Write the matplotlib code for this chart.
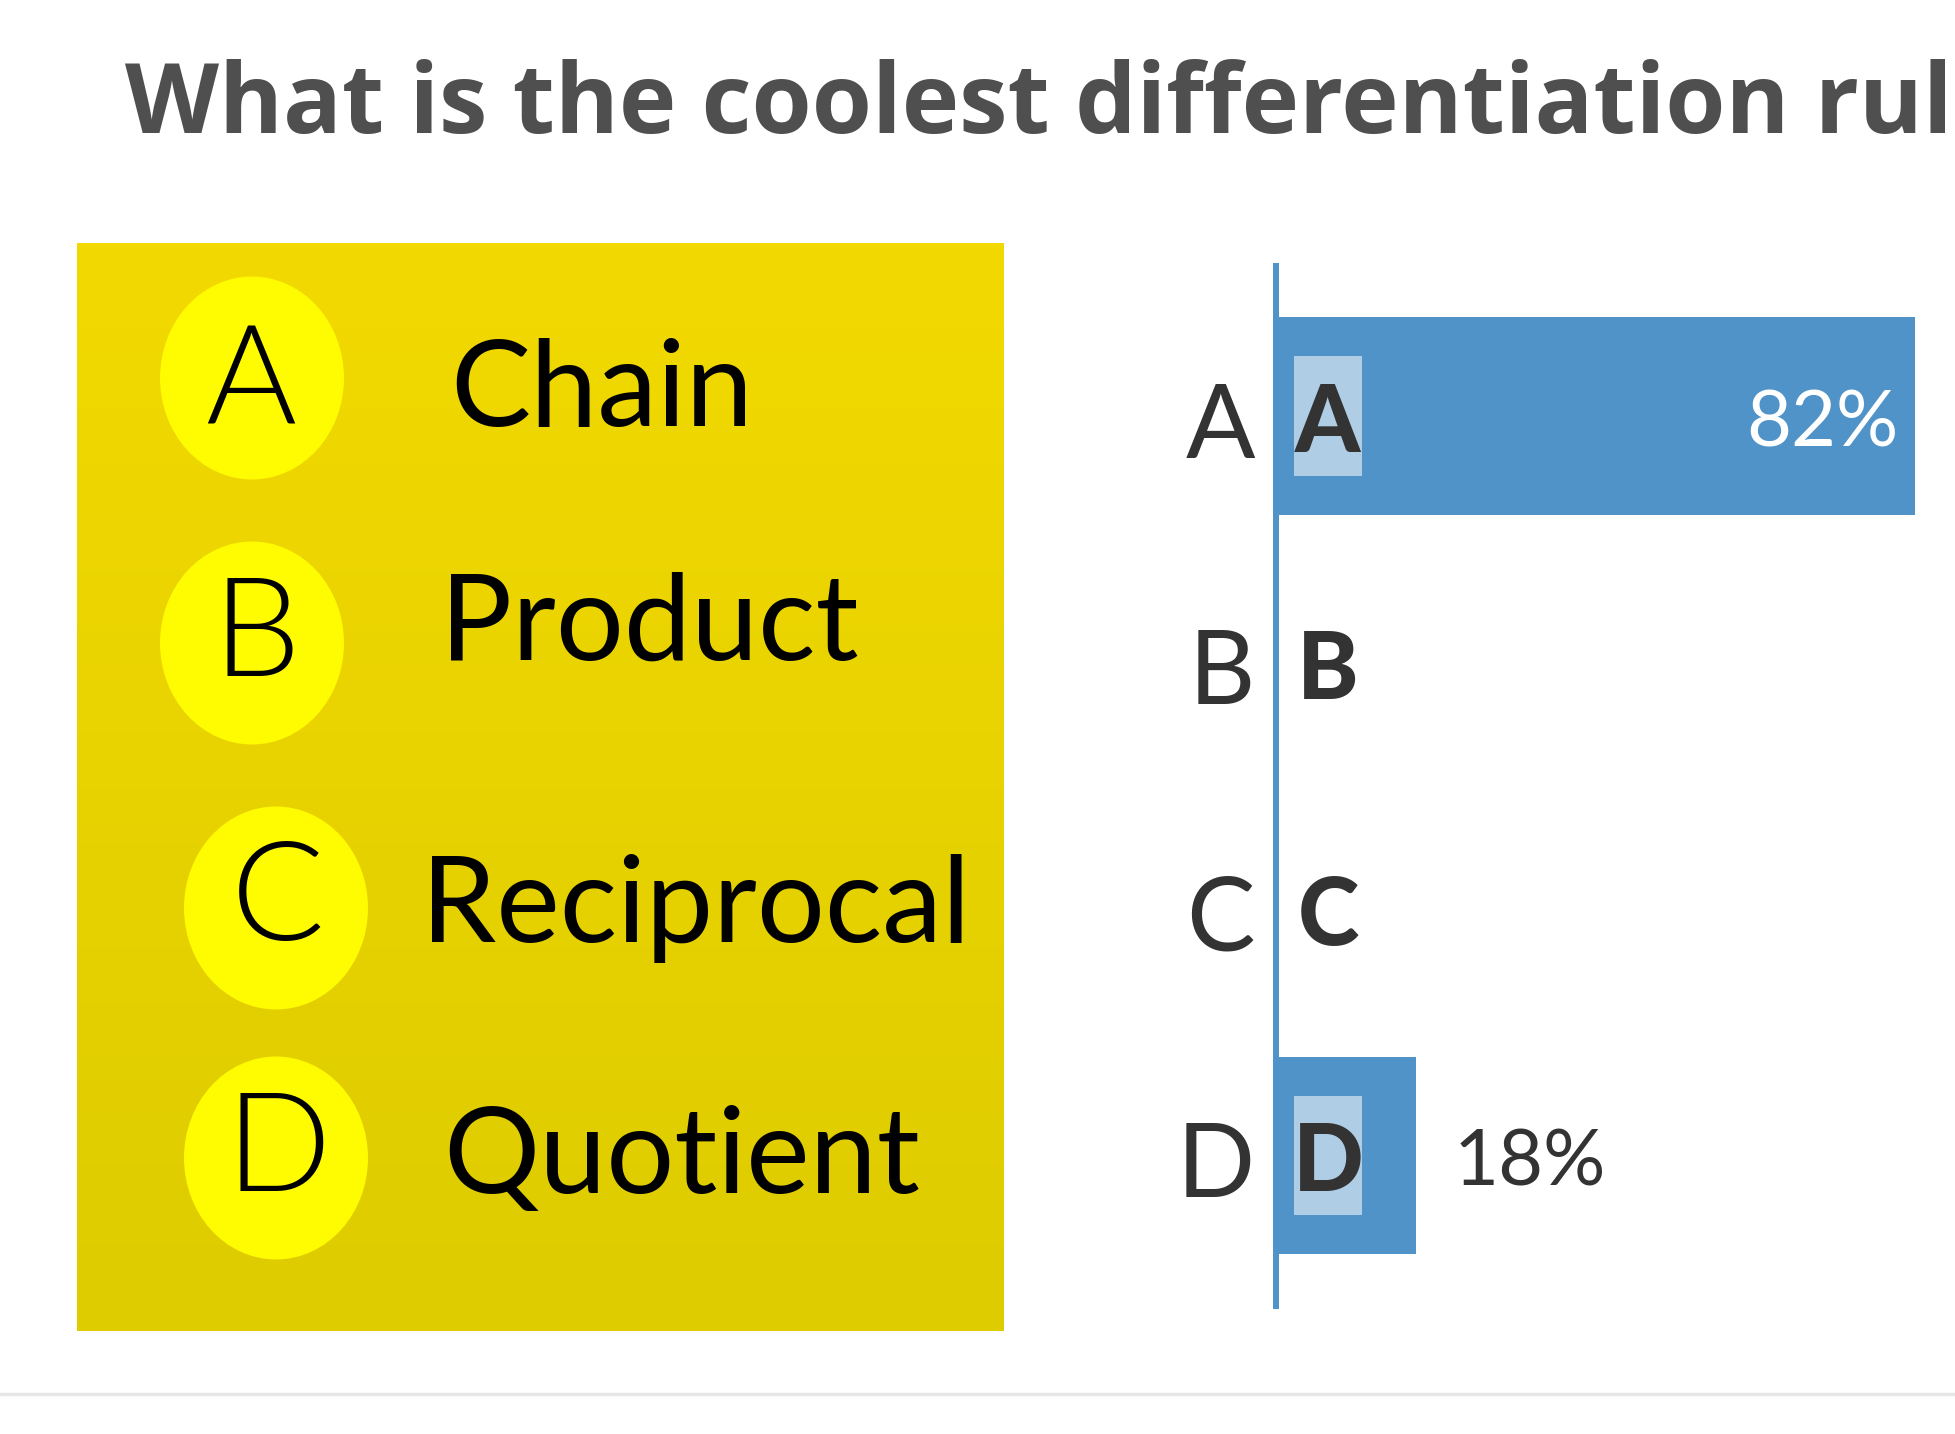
import matplotlib
matplotlib.use("Agg")
import matplotlib.pyplot as plt
import numpy as np
from matplotlib.patches import Ellipse

# ---- data ----
title = "What is the coolest differentiation rule?"
options = ["A", "B", "C", "D"]
rules = ["Chain", "Product", "Reciprocal", "Quotient"]
percent = [82, 0, 0, 18]

W, H = 1956, 1434
fig = plt.figure(figsize=(W / 100, H / 100), dpi=100)
fig.patch.set_facecolor("white")

# background / left panel axes in pixel coordinates
bg = fig.add_axes([0, 0, 1, 1])
bg.axis("off")

# yellow gradient panel
grad = np.linspace(0, 1, 256)[:, None, None]
top = np.array([242, 217, 0]) / 255
bot = np.array([222, 204, 0]) / 255
img = top + (bot - top) * grad
bg.imshow(img, extent=[77, 1004, 1331, 243], aspect="auto", zorder=0)

circle_xy = [(252, 378), (252, 643), (276, 908), (276, 1158)]
letter_x = [251, 256, 278, 278]
letter_base = [424, 676, 940, 1191]
word_x = [450, 440, 421, 443]
word_base = [426, 660, 942, 1193]
for i, (opt, rule) in enumerate(zip(options, rules)):
    cx, cy = circle_xy[i]
    bg.add_patch(Ellipse((cx, cy), 184, 203, facecolor="#fffb00", edgecolor="none", zorder=1))
    bg.text(letter_x[i], letter_base[i], opt, fontsize=100, family="Lato", fontweight=300,
            color="black", ha="center", va="baseline", zorder=2)
    bg.text(word_x[i], word_base[i], rule, fontsize=86.5, family="Lato", fontweight="normal",
            color="black", ha="left", va="baseline", zorder=2)

# bottom gray rule
bg.axhline(1394, color="#e6e6e6", lw=2.5, zorder=1)
bg.set_xlim(0, W)
bg.set_ylim(H, 0)

# title
bg.text(125, 133, title, fontsize=70, family="Open Sans", fontweight="bold",
        color="#4f4f4f", ha="left", va="baseline")

# ---- bar chart ----
ax = fig.add_axes([1276 / W, 1 - 1306 / H, (2055 - 1276) / W, 1040 / H])
ax.set_facecolor("none")
ypos = np.arange(len(options))
bar_color = "#5093c8"
ax.barh(ypos, percent, height=0.8, color=bar_color, zorder=2)
# light highlight boxes behind the bold letters
ax.barh(ypos, 8.7, left=2.3, height=0.484, color="white", alpha=0.55, zorder=3)

ax.set_xlim(0, 100)
ax.set_ylim(3.612, -0.609)
for s in ["top", "right", "bottom"]:
    ax.spines[s].set_visible(False)
ax.spines["left"].set_color(bar_color)
ax.spines["left"].set_linewidth(4.3)
ax.spines["left"].set_zorder(4)
ax.set_xticks([])
ax.set_yticks([])

for i, opt in enumerate(options):
    # plain letter left of axis
    ax.annotate(opt, xy=(0, i), xycoords=("axes fraction", "data"), xytext=(-15, -30),
                textcoords="offset points", ha="right", va="baseline",
                fontsize=74, family="Lato", color="#333333")
    # bold letter inside
    ax.annotate(opt, xy=(0, i), xytext=(37.4, -26), textcoords="offset points",
                ha="center", va="baseline", fontsize=67, family="Lato",
                fontweight="black", color="#333333", zorder=5)
    v = percent[i]
    if v > 0:
        if v > 50:
            ax.annotate(f"{v}%", xy=(v, i), xytext=(-12, -21.6), textcoords="offset points",
                        ha="right", va="baseline", fontsize=56, family="Lato",
                        color="white", zorder=5)
        else:
            ax.annotate(f"{v}%", xy=(v, i), xytext=(27, -21.6), textcoords="offset points",
                        ha="left", va="baseline", fontsize=56, family="Lato",
                        color="#333333", zorder=5)

fig.savefig("out.png", dpi=100)
